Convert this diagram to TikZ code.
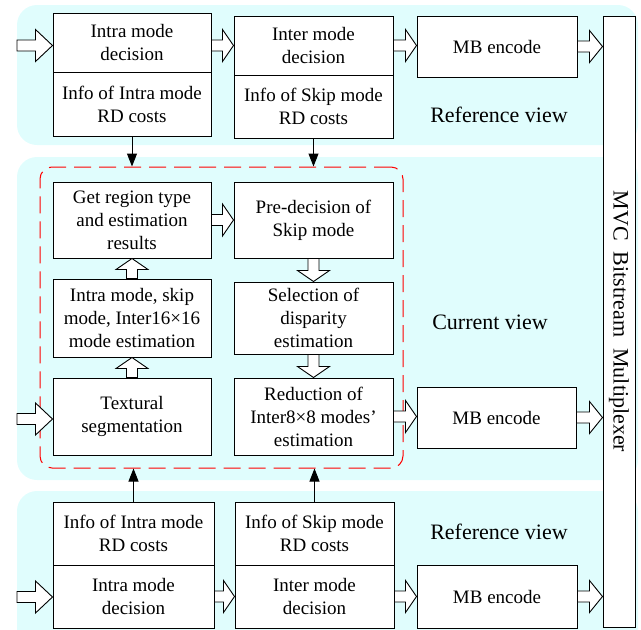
\documentclass[tikz,border=0pt]{standalone}
\usepackage{fontspec}
\setmainfont{Liberation Serif}
\usetikzlibrary{arrows.meta,calc}
\definecolor{panelc}{RGB}{224,253,253}
\tikzset{
  box/.style={draw, fill=white, line width=1pt, align=center, inner sep=0pt, font=\fontsize{19}{23}\selectfont},
  blk/.style={draw, fill=white, line width=0.9pt, line join=miter},
  thinarr/.style={line width=1pt, -{Triangle[length=13pt,width=10pt]}},
  lbl/.style={font=\fontsize{22}{26}\selectfont},
  panel/.style={fill=panelc, rounded corners=20pt},
  frame/.style={draw=red, line width=1pt, dash pattern=on 17pt off 8pt, rounded corners=12pt, inner sep=0pt}
}
% horizontal hollow arrow, pointing right; y taken from the start
\newcommand\rarr[3][11]{\draw[blk] let \p1=(#2),\p2=(#3) in
  (\x1,\y1+5.5pt) -- (\x2-#1pt,\y1+5.5pt) -- (\x2-#1pt,\y1+16pt) -- (\x2,\y1)
  -- (\x2-#1pt,\y1-16pt) -- (\x2-#1pt,\y1-5.5pt) -- (\x1,\y1-5.5pt) -- cycle;}
% vertical hollow arrow pointing up
\newcommand\uarr[2]{\draw[blk] let \p1=(#1),\p2=(#2) in
  (\x1-5.5pt,\y1) -- (\x1-5.5pt,\y2-11pt) -- (\x1-16pt,\y2-11pt) -- (\x1,\y2)
  -- (\x1+16pt,\y2-11pt) -- (\x1+5.5pt,\y2-11pt) -- (\x1+5.5pt,\y1) -- cycle;}
% vertical hollow arrow pointing down
\newcommand\darr[2]{\draw[blk] let \p1=(#1),\p2=(#2) in
  (\x1-5.5pt,\y1) -- (\x1-5.5pt,\y2+11pt) -- (\x1-16pt,\y2+11pt) -- (\x1,\y2)
  -- (\x1+16pt,\y2+11pt) -- (\x1+5.5pt,\y2+11pt) -- (\x1+5.5pt,\y1) -- cycle;}
\begin{document}
\begin{tikzpicture}[x=1pt,y=-1pt]
\useasboundingbox (0,0) rectangle (641,630);
% panels
\fill[panel] (17,5) rectangle (638,145);
\fill[panel] (17,157) rectangle (638,480);
\fill[fill=panelc] (17,632) [rounded corners=20pt] -- (17,491) -- (638,491) [sharp corners] -- (638,632) -- cycle;

% top reference view
\node[box, minimum width=158, minimum height=59] (Adec) at (132,42.5) {Intra mode\\decision};
\node[box, minimum width=158, minimum height=64] (Ainfo) at (132,104) {Info of Intra mode\\RD costs};
\node[box, minimum width=159, minimum height=59] (Bdec) at (313.5,45.5) {Inter mode\\decision};
\node[box, minimum width=159, minimum height=63] (Binfo) at (313.5,106.5) {Info of Skip mode\\RD costs};
\node[box, minimum width=160, minimum height=61] (MB1) at (497,46.5) {MB encode};
\node[lbl] (rv1) at (499,115) {Reference view};

% current view
\node[frame, minimum width=363, minimum height=301] (frm) at (221.5,317.5) {};
\node[box, minimum width=158, minimum height=76] (get) at (132,220) {Get region type\\and estimation\\results};
\node[box, minimum width=159, minimum height=76] (pre) at (313.5,220) {Pre-decision of\\Skip mode};
\node[box, minimum width=158, minimum height=78] (est) at (132,318) {Intra mode, skip\\mode, Inter16×16\\mode estimation};
\node[box, minimum width=159, minimum height=72] (sel) at (313.5,318) {Selection of\\disparity\\estimation};
\node[box, minimum width=158, minimum height=77] (tex) at (132,416.5) {Textural\\segmentation};
\node[box, minimum width=159, minimum height=77] (red) at (313.5,416.5) {Reduction of\\Inter8×8 modes’\\estimation};
\node[box, minimum width=159, minimum height=61] (MB2) at (496.5,417.5) {MB encode};
\node[lbl] (cv) at (490,322) {Current view};

% bottom reference view
\node[box, minimum width=161, minimum height=63] (Ainfo2) at (133.5,533.5) {Info of Intra mode\\RD costs};
\node[box, minimum width=161, minimum height=63] (Adec2) at (133.5,596.5) {Intra mode\\decision};
\node[box, minimum width=159, minimum height=63] (Binfo2) at (314.5,533.5) {Info of Skip mode\\RD costs};
\node[box, minimum width=159, minimum height=63] (Bdec2) at (314.5,596.5) {Inter mode\\decision};
\node[box, minimum width=160, minimum height=63] (MB3) at (497,596.5) {MB encode};
\node[lbl] (rv2) at (499,532) {Reference view};

% multiplexer
\node[box, lbl, rotate=-90, minimum width=611, minimum height=32] (mvc) at (619,321.5) {MVC~~Bitstream~~Multiplexer};

% input coordinates
\coordinate (in1) at (17,45.5);
\coordinate (in2) at (17,419);
\coordinate (in3) at (17,597);

% top arrows
\rarr[17]{in1}{Adec.west}
\rarr{Adec.east |- Bdec.west}{Bdec.west}
\rarr{Bdec.east}{MB1.west}
\rarr[13]{MB1.east}{MB1.east -| mvc.south}
\draw[thinarr] (Ainfo.south) -- (Ainfo.south |- frm.north);
\draw[thinarr] (Binfo.south) -- (Binfo.south |- frm.north);

% middle arrows
\rarr[17]{in2}{tex.west}
\rarr{get.east}{pre.west}
\uarr{est.north}{get.south}
\uarr{tex.north}{est.south}
\darr{pre.south}{sel.north}
\darr{sel.south}{red.north}
\rarr{red.east}{MB2.west}
\rarr[13]{MB2.east}{MB2.east -| mvc.south}

% bottom arrows
\rarr[17]{in3}{Adec2.west}
\rarr{Adec2.east}{Bdec2.west}
\rarr{Bdec2.east}{MB3.west}
\rarr[13]{MB3.east}{MB3.east -| mvc.south}
\draw[thinarr] (Ainfo2.north) -- (Ainfo2.north |- frm.south);
\draw[thinarr] (Binfo2.north) -- (Binfo2.north |- frm.south);
\end{tikzpicture}
\end{document}
